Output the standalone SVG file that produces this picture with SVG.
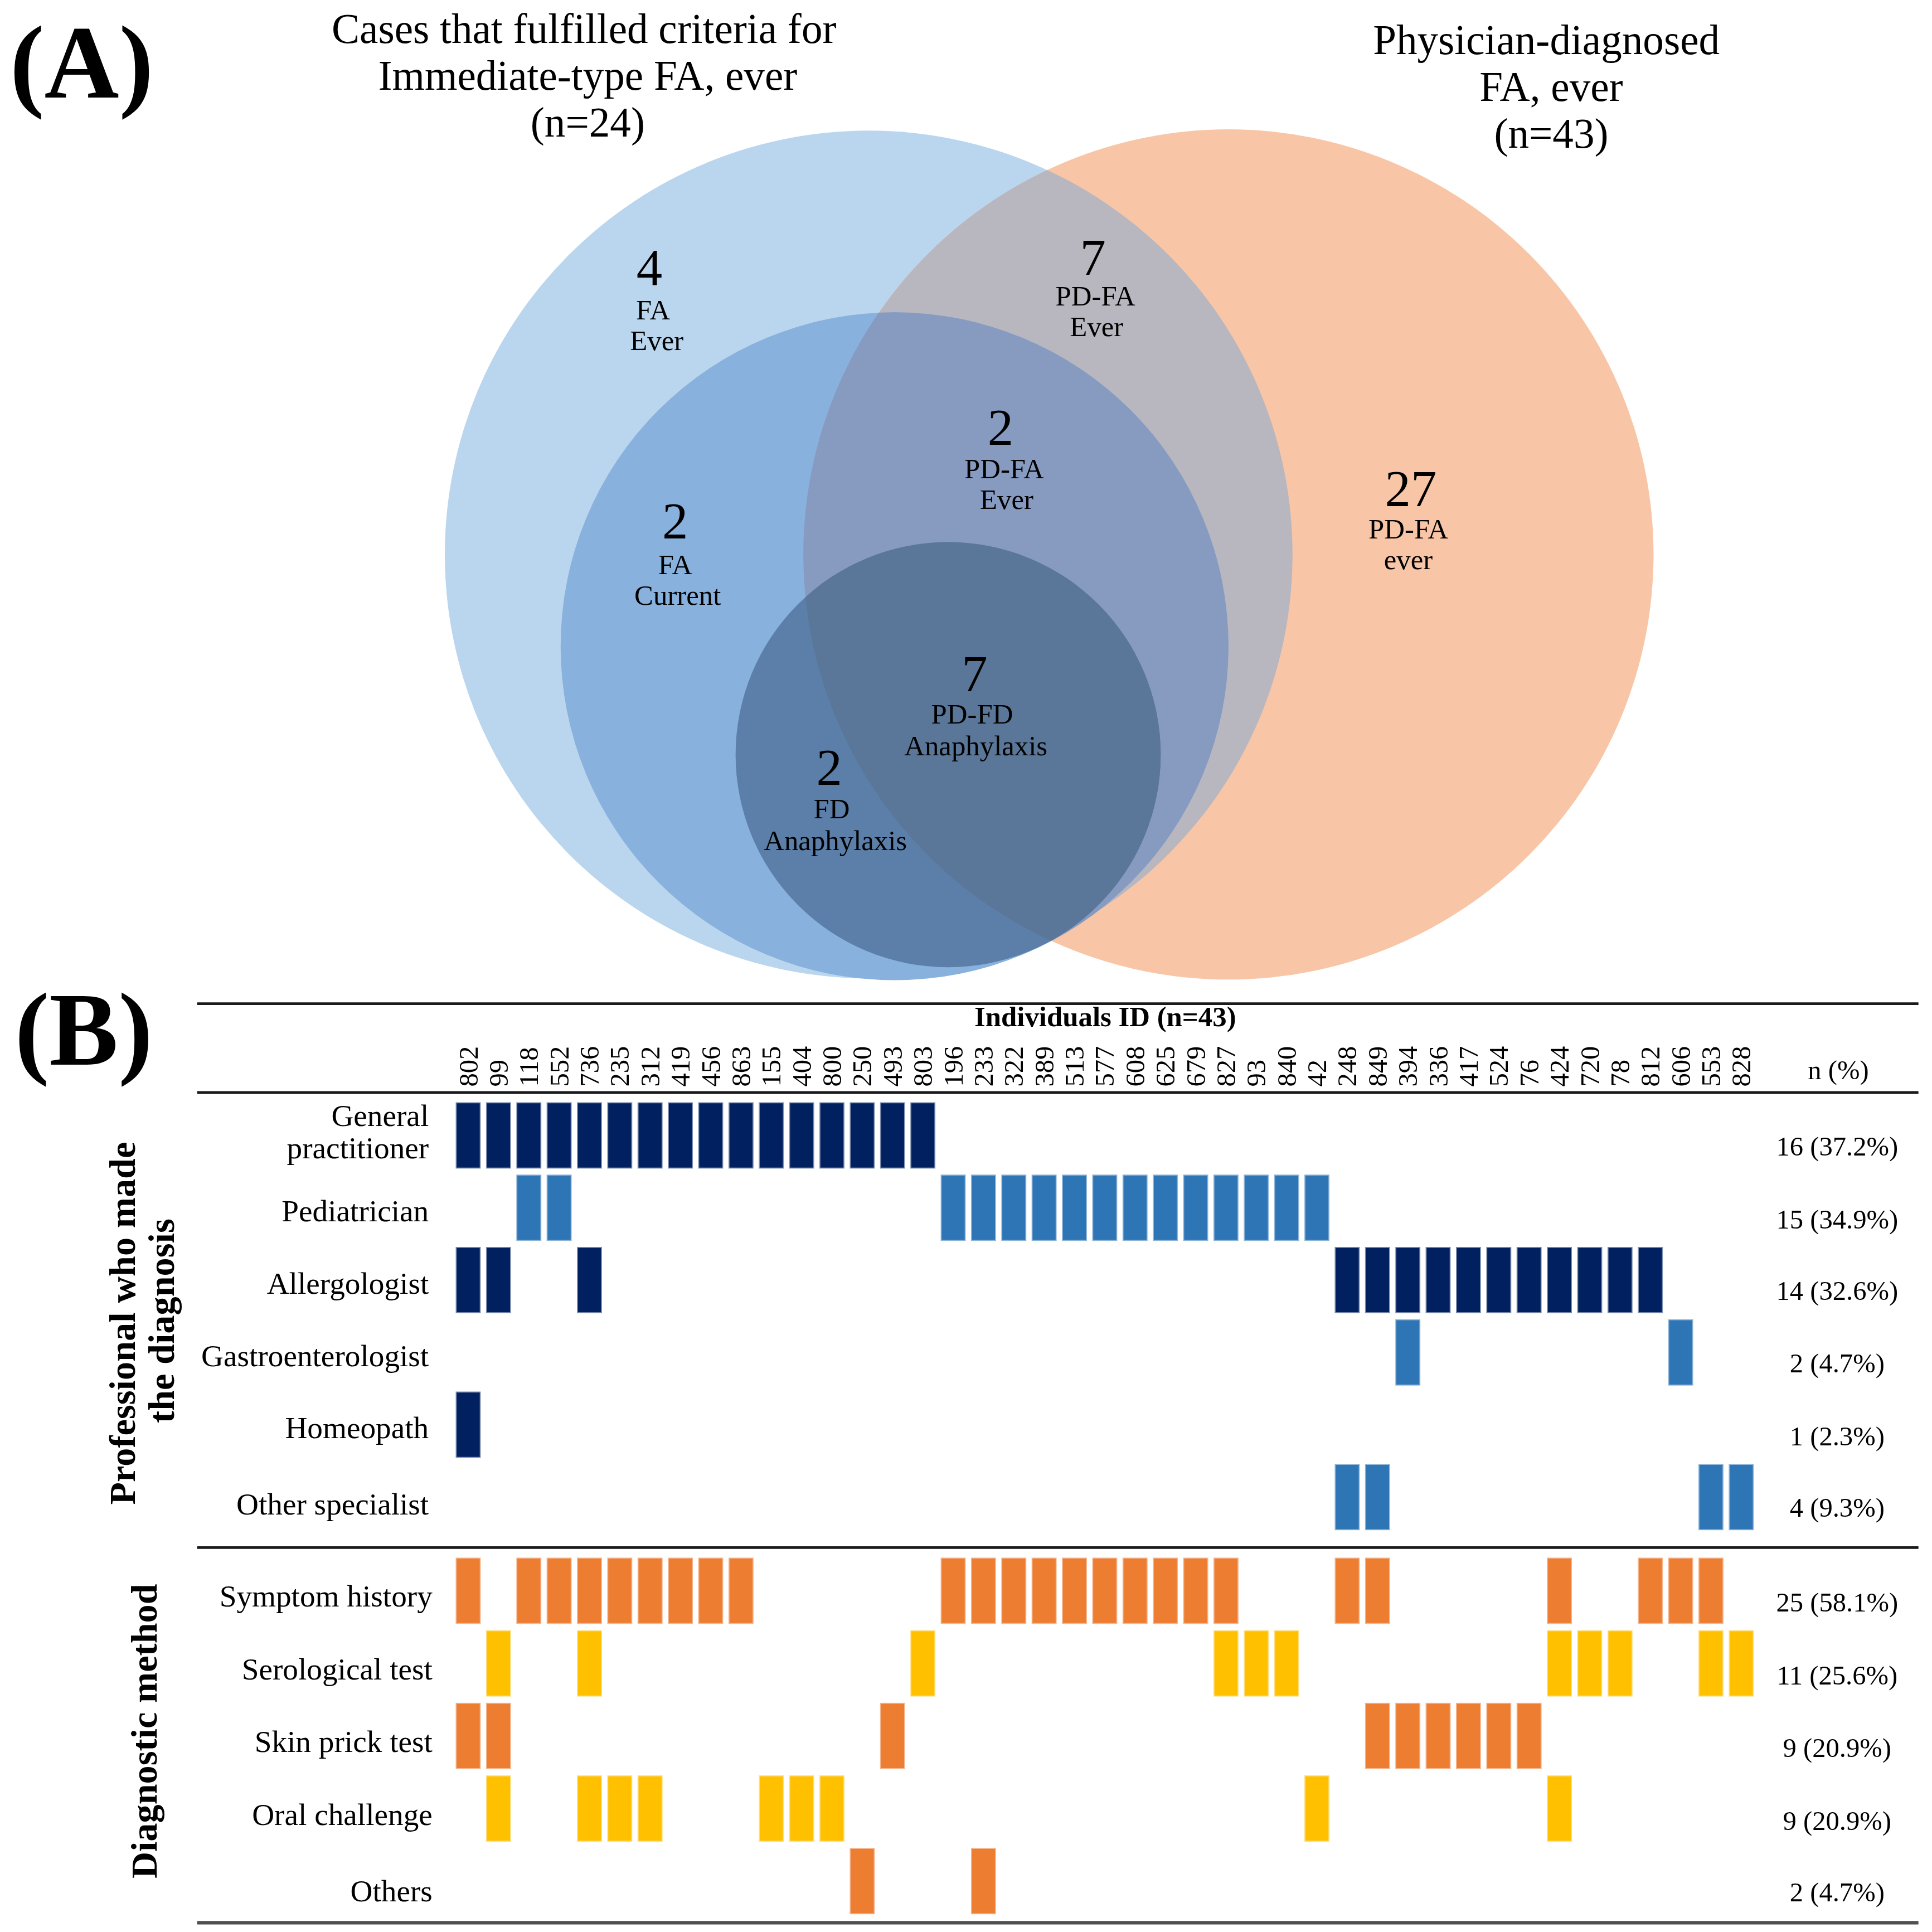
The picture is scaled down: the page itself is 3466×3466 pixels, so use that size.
<svg xmlns="http://www.w3.org/2000/svg" xmlns:xlink="http://www.w3.org/1999/xlink" width="3466" height="3466" viewBox="0 0 3466 3466">
<style>
text{font-family:"Liberation Serif","Times New Roman",serif;fill:#000}
.ttl{font-size:34px;text-anchor:middle}
.num{font-size:42px;text-anchor:middle}
.lbl{font-size:23px;text-anchor:middle}
.pan{font-size:84px;font-weight:bold}
.row{font-size:25px;text-anchor:end}
.val{font-size:22px;text-anchor:middle}
.id{font-size:22px}
.grp{font-size:30px;font-weight:bold;text-anchor:middle}
.hdr{font-size:23px;font-weight:bold;text-anchor:middle}
.navy{fill:#002060;stroke:#7f8fb0;stroke-width:0.8}
.blue{fill:#2E75B6;stroke:#8fb4d8;stroke-width:0.8}
.orng{fill:#ED7D31;stroke:#f5b48c;stroke-width:0.8}
.yell{fill:#FFC000;stroke:#ffdd80;stroke-width:0.8}
.rule{stroke:#1a1a1a;stroke-width:2.2;fill:none}
</style>
<defs>
<clipPath id="clipO"><circle cx="997" cy="450" r="345"/></clipPath>
<rect id="bar" width="19.5" height="53"/>
</defs>
<g transform="scale(2.210459)">
<rect x="0" y="0" width="1568" height="1568" fill="#fff"/>
<!-- Panel A -->
<text class="pan" x="8" y="79">(A)</text>
<g id="title-immediate">
<text class="ttl" x="474" y="35">Cases that fulfilled criteria for</text>
<text class="ttl" x="477" y="73">Immediate-type FA, ever</text>
<text class="ttl" x="477" y="111">(n=24)</text>
</g>
<g id="title-physician">
<text class="ttl" x="1255" y="44">Physician-diagnosed</text>
<text class="ttl" x="1259" y="82">FA, ever</text>
<text class="ttl" x="1259" y="120">(n=43)</text>
</g>
<g id="set-immediate-ever"><circle cx="705" cy="450" r="344" fill="#BAD6EE"/></g>
<g id="set-physician-ever"><circle cx="997" cy="450" r="345" fill="#F8C6A7"/>
<circle cx="705" cy="450" r="344" fill="#B8B6BF" clip-path="url(#clipO)"/></g>
<g id="set-immediate-current"><circle cx="726" cy="524.5" r="271" fill="#88B1DD"/>
<circle cx="726" cy="524.5" r="271" fill="#879AC0" clip-path="url(#clipO)"/></g>
<g id="set-anaphylaxis"><circle cx="769.5" cy="612.5" r="172.5" fill="#5B7FA8"/>
<circle cx="769.5" cy="612.5" r="172.5" fill="#5A7698" clip-path="url(#clipO)"/></g>
<g id="region-fa-ever">
<text class="num" x="527" y="231">4</text>
<text class="lbl" x="530" y="259">FA</text>
<text class="lbl" x="533" y="284">Ever</text>
</g>
<g id="region-pdfa-ever-top">
<text class="num" x="887" y="223">7</text>
<text class="lbl" x="889" y="248">PD-FA</text>
<text class="lbl" x="890" y="273">Ever</text>
</g>
<g id="region-pdfa-ever-mid">
<text class="num" x="812" y="361">2</text>
<text class="lbl" x="815" y="388">PD-FA</text>
<text class="lbl" x="817" y="413">Ever</text>
</g>
<g id="region-pdfa-only">
<text class="num" x="1145" y="411">27</text>
<text class="lbl" x="1143" y="437">PD-FA</text>
<text class="lbl" x="1143" y="462">ever</text>
</g>
<g id="region-fa-current">
<text class="num" x="548" y="437">2</text>
<text class="lbl" x="548" y="466">FA</text>
<text class="lbl" x="550" y="491">Current</text>
</g>
<g id="region-pdfd-anaphylaxis">
<text class="num" x="791" y="561">7</text>
<text class="lbl" x="789" y="587">PD-FD</text>
<text class="lbl" x="792" y="613">Anaphylaxis</text>
</g>
<g id="region-fd-anaphylaxis">
<text class="num" x="673" y="637">2</text>
<text class="lbl" x="675" y="664">FD</text>
<text class="lbl" x="678" y="690">Anaphylaxis</text>
</g>
<!-- Panel B -->
<text class="pan" x="12" y="864">(B)</text>
<g id="connectors">
<line class="rule" x1="160" y1="814.6" x2="1557" y2="814.6"/>
<line class="rule" x1="160" y1="886.7" x2="1557" y2="886.7"/>
<line class="rule" x1="160" y1="1256" x2="1557" y2="1256"/>
<line class="rule" x1="160" y1="1560.5" x2="1557" y2="1560.5" style="stroke:#505050;stroke-width:2.8"/>
</g>
<g id="header">
<text class="hdr" x="897" y="833">Individuals ID (n=43)</text>
<text class="val" x="1492" y="876">n (%)</text>
<g class="id">
<text class="id" transform="translate(387.5,882) rotate(-90)">802</text>
<text class="id" transform="translate(412.1,882) rotate(-90)">99</text>
<text class="id" transform="translate(436.7,882) rotate(-90)">118</text>
<text class="id" transform="translate(461.3,882) rotate(-90)">552</text>
<text class="id" transform="translate(485.9,882) rotate(-90)">736</text>
<text class="id" transform="translate(510.5,882) rotate(-90)">235</text>
<text class="id" transform="translate(535.1,882) rotate(-90)">312</text>
<text class="id" transform="translate(559.7,882) rotate(-90)">419</text>
<text class="id" transform="translate(584.3,882) rotate(-90)">456</text>
<text class="id" transform="translate(608.9,882) rotate(-90)">863</text>
<text class="id" transform="translate(633.5,882) rotate(-90)">155</text>
<text class="id" transform="translate(658.1,882) rotate(-90)">404</text>
<text class="id" transform="translate(682.7,882) rotate(-90)">800</text>
<text class="id" transform="translate(707.3,882) rotate(-90)">250</text>
<text class="id" transform="translate(731.9,882) rotate(-90)">493</text>
<text class="id" transform="translate(756.5,882) rotate(-90)">803</text>
<text class="id" transform="translate(781.1,882) rotate(-90)">196</text>
<text class="id" transform="translate(805.7,882) rotate(-90)">233</text>
<text class="id" transform="translate(830.3,882) rotate(-90)">322</text>
<text class="id" transform="translate(854.9,882) rotate(-90)">389</text>
<text class="id" transform="translate(879.5,882) rotate(-90)">513</text>
<text class="id" transform="translate(904.1,882) rotate(-90)">577</text>
<text class="id" transform="translate(928.7,882) rotate(-90)">608</text>
<text class="id" transform="translate(953.3,882) rotate(-90)">625</text>
<text class="id" transform="translate(977.9,882) rotate(-90)">679</text>
<text class="id" transform="translate(1002.5,882) rotate(-90)">827</text>
<text class="id" transform="translate(1027.1,882) rotate(-90)">93</text>
<text class="id" transform="translate(1051.7,882) rotate(-90)">840</text>
<text class="id" transform="translate(1076.3,882) rotate(-90)">42</text>
<text class="id" transform="translate(1100.9,882) rotate(-90)">248</text>
<text class="id" transform="translate(1125.5,882) rotate(-90)">849</text>
<text class="id" transform="translate(1150.1,882) rotate(-90)">394</text>
<text class="id" transform="translate(1174.7,882) rotate(-90)">336</text>
<text class="id" transform="translate(1199.3,882) rotate(-90)">417</text>
<text class="id" transform="translate(1223.9,882) rotate(-90)">524</text>
<text class="id" transform="translate(1248.5,882) rotate(-90)">76</text>
<text class="id" transform="translate(1273.1,882) rotate(-90)">424</text>
<text class="id" transform="translate(1297.7,882) rotate(-90)">720</text>
<text class="id" transform="translate(1322.3,882) rotate(-90)">78</text>
<text class="id" transform="translate(1346.9,882) rotate(-90)">812</text>
<text class="id" transform="translate(1371.5,882) rotate(-90)">606</text>
<text class="id" transform="translate(1396.1,882) rotate(-90)">553</text>
<text class="id" transform="translate(1420.7,882) rotate(-90)">828</text>
</g>
</g>
<g id="group-professional">
<text class="grp" transform="translate(109.5,1074) rotate(-90)">Professional who made</text>
<text class="grp" transform="translate(141,1072) rotate(-90)">the diagnosis</text>
</g>
<g id="group-method">
<text class="grp" transform="translate(127,1405) rotate(-90)">Diagnostic method</text>
</g>
<g id="row-general-practitioner">
<text class="row" x="348" y="914">General</text>
<text class="row" x="348" y="940">practitioner</text>
<text class="val" x="1491" y="938">16 (37.2%)</text>
<g class="navy">
<use xlink:href="#bar" x="370.25" y="895"/><use xlink:href="#bar" x="394.85" y="895"/><use xlink:href="#bar" x="419.45" y="895"/><use xlink:href="#bar" x="444.05" y="895"/><use xlink:href="#bar" x="468.65" y="895"/><use xlink:href="#bar" x="493.25" y="895"/><use xlink:href="#bar" x="517.85" y="895"/><use xlink:href="#bar" x="542.45" y="895"/><use xlink:href="#bar" x="567.05" y="895"/><use xlink:href="#bar" x="591.65" y="895"/><use xlink:href="#bar" x="616.25" y="895"/><use xlink:href="#bar" x="640.85" y="895"/><use xlink:href="#bar" x="665.45" y="895"/><use xlink:href="#bar" x="690.05" y="895"/><use xlink:href="#bar" x="714.65" y="895"/><use xlink:href="#bar" x="739.25" y="895"/>
</g>
</g>
<g id="row-pediatrician">
<text class="row" x="348" y="991">Pediatrician</text>
<text class="val" x="1491" y="997">15 (34.9%)</text>
<g class="blue">
<use xlink:href="#bar" x="419.45" y="953.7"/><use xlink:href="#bar" x="444.05" y="953.7"/>
<use xlink:href="#bar" x="763.85" y="953.7"/><use xlink:href="#bar" x="788.45" y="953.7"/><use xlink:href="#bar" x="813.05" y="953.7"/><use xlink:href="#bar" x="837.65" y="953.7"/><use xlink:href="#bar" x="862.25" y="953.7"/><use xlink:href="#bar" x="886.85" y="953.7"/><use xlink:href="#bar" x="911.45" y="953.7"/><use xlink:href="#bar" x="936.05" y="953.7"/><use xlink:href="#bar" x="960.65" y="953.7"/><use xlink:href="#bar" x="985.25" y="953.7"/><use xlink:href="#bar" x="1009.85" y="953.7"/><use xlink:href="#bar" x="1034.45" y="953.7"/><use xlink:href="#bar" x="1059.05" y="953.7"/>
</g>
</g>
<g id="row-allergologist">
<text class="row" x="348" y="1050">Allergologist</text>
<text class="val" x="1491" y="1055">14 (32.6%)</text>
<g class="navy">
<use xlink:href="#bar" x="370.25" y="1012.4"/><use xlink:href="#bar" x="394.85" y="1012.4"/><use xlink:href="#bar" x="468.65" y="1012.4"/>
<use xlink:href="#bar" x="1083.65" y="1012.4"/><use xlink:href="#bar" x="1108.25" y="1012.4"/><use xlink:href="#bar" x="1132.85" y="1012.4"/><use xlink:href="#bar" x="1157.45" y="1012.4"/><use xlink:href="#bar" x="1182.05" y="1012.4"/><use xlink:href="#bar" x="1206.65" y="1012.4"/><use xlink:href="#bar" x="1231.25" y="1012.4"/><use xlink:href="#bar" x="1255.85" y="1012.4"/><use xlink:href="#bar" x="1280.45" y="1012.4"/><use xlink:href="#bar" x="1305.05" y="1012.4"/><use xlink:href="#bar" x="1329.65" y="1012.4"/>
</g>
</g>
<g id="row-gastroenterologist">
<text class="row" x="348" y="1109">Gastroenterologist</text>
<text class="val" x="1491" y="1114">2 (4.7%)</text>
<g class="blue">
<use xlink:href="#bar" x="1132.85" y="1071.1"/><use xlink:href="#bar" x="1354.25" y="1071.1"/>
</g>
</g>
<g id="row-homeopath">
<text class="row" x="348" y="1167">Homeopath</text>
<text class="val" x="1491" y="1173">1 (2.3%)</text>
<g class="navy"><use xlink:href="#bar" x="370.25" y="1129.8"/></g>
</g>
<g id="row-other-specialist">
<text class="row" x="348" y="1229">Other specialist</text>
<text class="val" x="1491" y="1231">4 (9.3%)</text>
<g class="blue">
<use xlink:href="#bar" x="1083.65" y="1188.5"/><use xlink:href="#bar" x="1108.25" y="1188.5"/><use xlink:href="#bar" x="1378.85" y="1188.5"/><use xlink:href="#bar" x="1403.45" y="1188.5"/>
</g>
</g>
<g id="row-symptom-history">
<text class="row" x="351" y="1304">Symptom history</text>
<text class="val" x="1491" y="1308">25 (58.1%)</text>
<g class="orng">
<use xlink:href="#bar" x="370.25" y="1264.6"/>
<use xlink:href="#bar" x="419.45" y="1264.6"/><use xlink:href="#bar" x="444.05" y="1264.6"/><use xlink:href="#bar" x="468.65" y="1264.6"/><use xlink:href="#bar" x="493.25" y="1264.6"/><use xlink:href="#bar" x="517.85" y="1264.6"/><use xlink:href="#bar" x="542.45" y="1264.6"/><use xlink:href="#bar" x="567.05" y="1264.6"/><use xlink:href="#bar" x="591.65" y="1264.6"/>
<use xlink:href="#bar" x="763.85" y="1264.6"/><use xlink:href="#bar" x="788.45" y="1264.6"/><use xlink:href="#bar" x="813.05" y="1264.6"/><use xlink:href="#bar" x="837.65" y="1264.6"/><use xlink:href="#bar" x="862.25" y="1264.6"/><use xlink:href="#bar" x="886.85" y="1264.6"/><use xlink:href="#bar" x="911.45" y="1264.6"/><use xlink:href="#bar" x="936.05" y="1264.6"/><use xlink:href="#bar" x="960.65" y="1264.6"/><use xlink:href="#bar" x="985.25" y="1264.6"/>
<use xlink:href="#bar" x="1083.65" y="1264.6"/><use xlink:href="#bar" x="1108.25" y="1264.6"/>
<use xlink:href="#bar" x="1255.85" y="1264.6"/>
<use xlink:href="#bar" x="1329.65" y="1264.6"/><use xlink:href="#bar" x="1354.25" y="1264.6"/><use xlink:href="#bar" x="1378.85" y="1264.6"/>
</g>
</g>
<g id="row-serological-test">
<text class="row" x="351" y="1363">Serological test</text>
<text class="val" x="1491" y="1367">11 (25.6%)</text>
<g class="yell">
<use xlink:href="#bar" x="394.85" y="1323.5"/><use xlink:href="#bar" x="468.65" y="1323.5"/><use xlink:href="#bar" x="739.25" y="1323.5"/>
<use xlink:href="#bar" x="985.25" y="1323.5"/><use xlink:href="#bar" x="1009.85" y="1323.5"/><use xlink:href="#bar" x="1034.45" y="1323.5"/>
<use xlink:href="#bar" x="1255.85" y="1323.5"/><use xlink:href="#bar" x="1280.45" y="1323.5"/><use xlink:href="#bar" x="1305.05" y="1323.5"/>
<use xlink:href="#bar" x="1378.85" y="1323.5"/><use xlink:href="#bar" x="1403.45" y="1323.5"/>
</g>
</g>
<g id="row-skin-prick-test">
<text class="row" x="351" y="1422">Skin prick test</text>
<text class="val" x="1491" y="1426">9 (20.9%)</text>
<g class="orng">
<use xlink:href="#bar" x="370.25" y="1382.4"/><use xlink:href="#bar" x="394.85" y="1382.4"/><use xlink:href="#bar" x="714.65" y="1382.4"/>
<use xlink:href="#bar" x="1108.25" y="1382.4"/><use xlink:href="#bar" x="1132.85" y="1382.4"/><use xlink:href="#bar" x="1157.45" y="1382.4"/><use xlink:href="#bar" x="1182.05" y="1382.4"/><use xlink:href="#bar" x="1206.65" y="1382.4"/><use xlink:href="#bar" x="1231.25" y="1382.4"/>
</g>
</g>
<g id="row-oral-challenge">
<text class="row" x="351" y="1481">Oral challenge</text>
<text class="val" x="1491" y="1485">9 (20.9%)</text>
<g class="yell">
<use xlink:href="#bar" x="394.85" y="1441.3"/>
<use xlink:href="#bar" x="468.65" y="1441.3"/><use xlink:href="#bar" x="493.25" y="1441.3"/><use xlink:href="#bar" x="517.85" y="1441.3"/>
<use xlink:href="#bar" x="616.25" y="1441.3"/><use xlink:href="#bar" x="640.85" y="1441.3"/><use xlink:href="#bar" x="665.45" y="1441.3"/>
<use xlink:href="#bar" x="1059.05" y="1441.3"/><use xlink:href="#bar" x="1255.85" y="1441.3"/>
</g>
</g>
<g id="row-others">
<text class="row" x="351" y="1543">Others</text>
<text class="val" x="1491" y="1543">2 (4.7%)</text>
<g class="orng">
<use xlink:href="#bar" x="690.05" y="1500.2"/><use xlink:href="#bar" x="788.45" y="1500.2"/>
</g>
</g>
</g>
</svg>
